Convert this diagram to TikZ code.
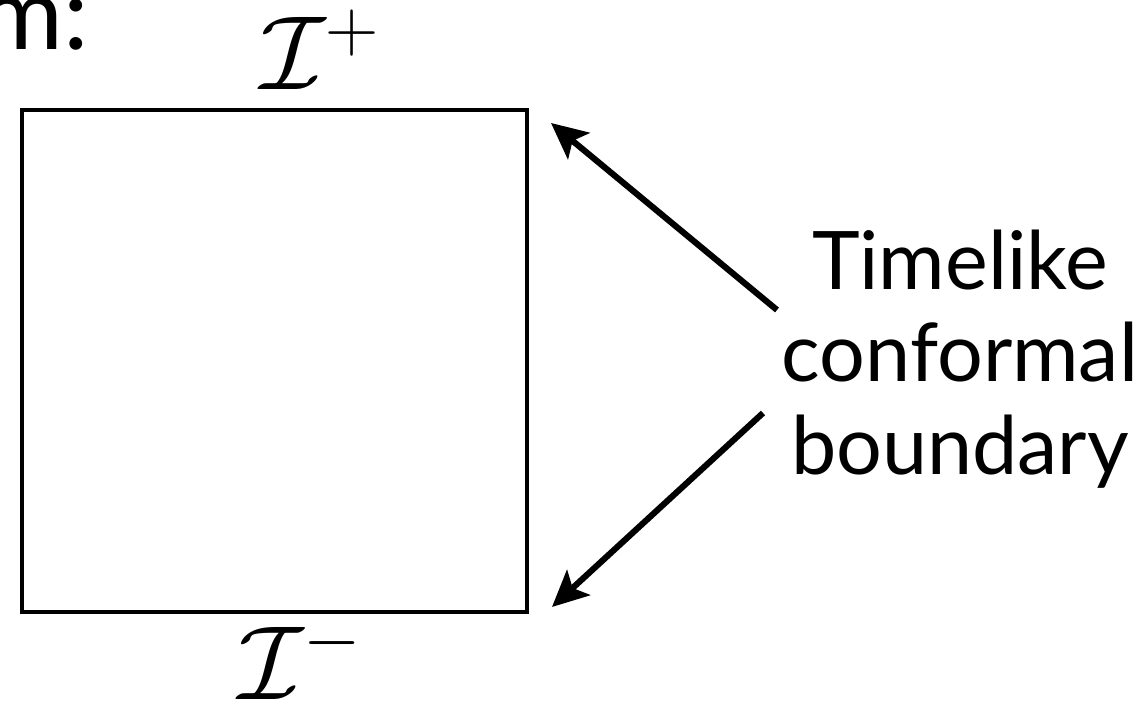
\documentclass[tikz,border=0pt]{standalone}
\usepackage{fix-cm}
\usepackage{fontspec}
\newfontfamily\labelfont{Lato}
\usetikzlibrary{arrows.meta}

\begin{document}
\begin{tikzpicture}[
		boundarrow/.style={line width=1.75pt, -{Stealth[length=3.6mm, width=3.4mm, inset=0.8mm]}},
		scrilabel/.style={anchor=base west, inner sep=0pt, font={\fontsize{30}{34}\selectfont}},
		sidetext/.style={align=center, inner sep=0pt, font={\labelfont\fontsize{23}{26.4}\selectfont}}
	]
		\useasboundingbox (0,0) rectangle (11.4,7.05);
		
		% Heading remainder
		\node[anchor=base east, inner sep=0pt, font={\labelfont\fontsize{29}{33}\selectfont}] (heading) at (0.90,6.55) {m:};
		
		% Diagram
		\draw[line width=1.4pt] (0.22,0.93) rectangle (5.27,5.95);
		
		% Null infinities
		\node[scrilabel] (scriplus) at (2.60,6.15) {$\mathcal{I}^+$};
		\node[scrilabel] (scriminus) at (2.38,0.05) {$\mathcal{I}^-$};
		
		% Boundary label
		\node[sidetext] (timelike) at (9.6,3.46) {Timelike\\ conformal\\ boundary};
		
		\coordinate (tailup) at (7.77,3.95);
		\coordinate (tipup) at (5.51,5.82);
		\coordinate (taildown) at (7.63,2.92);
		\coordinate (tipdown) at (5.52,0.98);
		
		\draw[boundarrow] (tailup) -- (tipup);
		\draw[boundarrow] (taildown) -- (tipdown);
	\end{tikzpicture}
\end{document}
